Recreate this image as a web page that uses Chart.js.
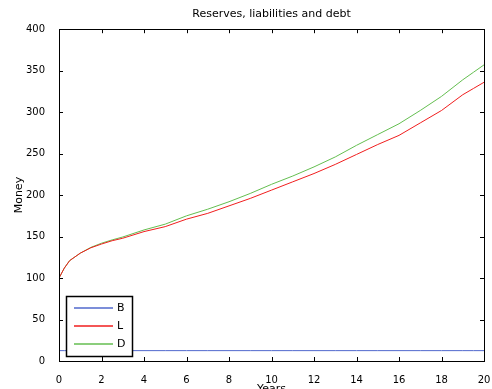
<!DOCTYPE html>
<html>
<head>
<meta charset="utf-8">
<script src="https://cdn.jsdelivr.net/npm/chart.js@4"></script>
<style>
  html, body { margin: 0; padding: 0; background: #fff; }
  canvas { display: block; }
</style>
</head>
<body>
<canvas id="canvas_money" width="492" height="389"></canvas>
<script>
// time axis (years) and the three simulated series
var years = [0, 0.25, 0.5, 1, 1.5, 2, 2.5, 3, 4, 5, 6, 7, 8, 9, 10, 11, 12, 13, 14, 15, 16, 17, 18, 19, 19.5, 20];
var reserves = [12.5, 12.5, 12.5, 12.5, 12.5, 12.5, 12.5, 12.5, 12.5, 12.5, 12.5, 12.5, 12.5,
                12.5, 12.5, 12.5, 12.5, 12.5, 12.5, 12.5, 12.5, 12.5, 12.5, 12.5, 12.5, 12.5];
var liabilities = [100, 112, 121, 130, 136.5, 141, 145, 148, 156, 162, 171, 178, 187, 196, 206,
                   216, 226, 237, 249, 261, 272, 287, 302, 321, 328.5, 336];
var debt = [100, 112, 121, 130, 137, 142, 146, 149.5, 158, 165, 175, 183, 192, 202, 213,
            223, 234, 246, 260, 273, 286, 302, 319, 339, 348, 357];

var xTicks = [0, 2, 4, 6, 8, 10, 12, 14, 16, 18, 20];
var yTicks = [0, 50, 100, 150, 200, 250, 300, 350, 400];

function toPoints(xs, ys) {
    return xs.map(function (x, i) { return {x: x, y: ys[i]}; });
}

Chart.defaults.font.family = "'DejaVu Sans', sans-serif";
Chart.defaults.color = '#000';

// matlab style box: frame, inward ticks on all four sides, legend in the lower left
var boxAxes = {
    id: 'boxAxes',
    afterDatasetsDraw: function (chart) {
        var ctx = chart.ctx;
        var a = chart.chartArea;
        var xs = chart.scales.x, ys = chart.scales.y;
        var tick = 4;
        ctx.save();
        ctx.strokeStyle = '#000';
        ctx.lineWidth = 1;
        ctx.beginPath();
        xTicks.forEach(function (v) {
            var px = Math.round(xs.getPixelForValue(v)) + 0.5;
            ctx.moveTo(px, a.bottom); ctx.lineTo(px, a.bottom - tick);
            ctx.moveTo(px, a.top); ctx.lineTo(px, a.top + tick);
        });
        yTicks.forEach(function (v) {
            var py = Math.round(ys.getPixelForValue(v)) + 0.5;
            ctx.moveTo(a.left, py); ctx.lineTo(a.left + tick, py);
            ctx.moveTo(a.right, py); ctx.lineTo(a.right - tick, py);
        });
        ctx.stroke();
        ctx.strokeRect(Math.round(a.left) + 0.5, Math.round(a.top) + 0.5,
                       Math.round(a.right - a.left), Math.round(a.bottom - a.top));

        // legend
        var lx = Math.round(a.left) + 7, lw = 66, lh = 60;
        var ly = Math.round(a.bottom) - 5 - lh;
        ctx.fillStyle = '#fff';
        ctx.fillRect(lx, ly, lw, lh);
        ctx.lineWidth = 1.5;
        ctx.strokeRect(lx + 0.5, ly + 0.5, lw, lh);
        ctx.font = "11px 'DejaVu Sans'";
        ctx.textBaseline = 'middle';
        chart.data.datasets.forEach(function (ds, i) {
            var ry = ly + 12 + i * 18;
            ctx.strokeStyle = ds.borderColor;
            ctx.lineWidth = 1.5;
            ctx.beginPath();
            ctx.moveTo(lx + 8, ry);
            ctx.lineTo(lx + 47, ry);
            ctx.stroke();
            ctx.fillStyle = '#000';
            ctx.fillText(ds.label, lx + 51, ry);
        });
        ctx.restore();
    }
};

var ctx = document.getElementById('canvas_money');
var moneyChart = new Chart(ctx, {
    type: 'line',
    data: {
        datasets: [
            {label: 'B', data: toPoints(years, reserves), borderColor: 'rgb(80,105,205)'},
            {label: 'L', data: toPoints(years, liabilities), borderColor: 'rgb(240,30,30)'},
            {label: 'D', data: toPoints(years, debt), borderColor: 'rgb(100,190,80)'}
        ]
    },
    options: {
        responsive: false,
        animation: false,
        layout: {padding: {left: 0, right: 8, top: 0, bottom: 0}},
        elements: {
            line: {borderWidth: 1, tension: 0},
            point: {radius: 0}
        },
        plugins: {
            legend: {display: false},
            tooltip: {enabled: false},
            title: {
                display: true,
                fullSize: false,
                text: 'Reserves, liabilities and debt',
                font: {size: 11, weight: 'normal'},
                color: '#000',
                padding: {top: 8, bottom: 8}
            }
        },
        scales: {
            x: {
                type: 'linear',
                min: 0,
                max: 20,
                afterBuildTicks: function (s) { s.ticks = xTicks.map(function (v) { return {value: v}; }); },
                afterFit: function (s) {
                    s.height = 28;
                    s.paddingLeft = 0;
                    s.paddingRight = 0;
                },
                grid: {display: false},
                border: {display: false},
                ticks: {font: {size: 10}, padding: 5, maxRotation: 0},
                title: {display: true, text: 'Years', font: {size: 11}, padding: {top: 0, bottom: -7}}
            },
            y: {
                min: 0,
                max: 400,
                afterBuildTicks: function (s) { s.ticks = yTicks.map(function (v) { return {value: v}; }); },
                afterFit: function (s) { s.width = 59; },
                grid: {display: false},
                border: {display: false},
                ticks: {font: {size: 10}, padding: 6},
                title: {display: true, text: 'Money', font: {size: 11}, padding: {top: 13, bottom: 0}}
            }
        }
    },
    plugins: [boxAxes]
});
</script>
</body>
</html>
